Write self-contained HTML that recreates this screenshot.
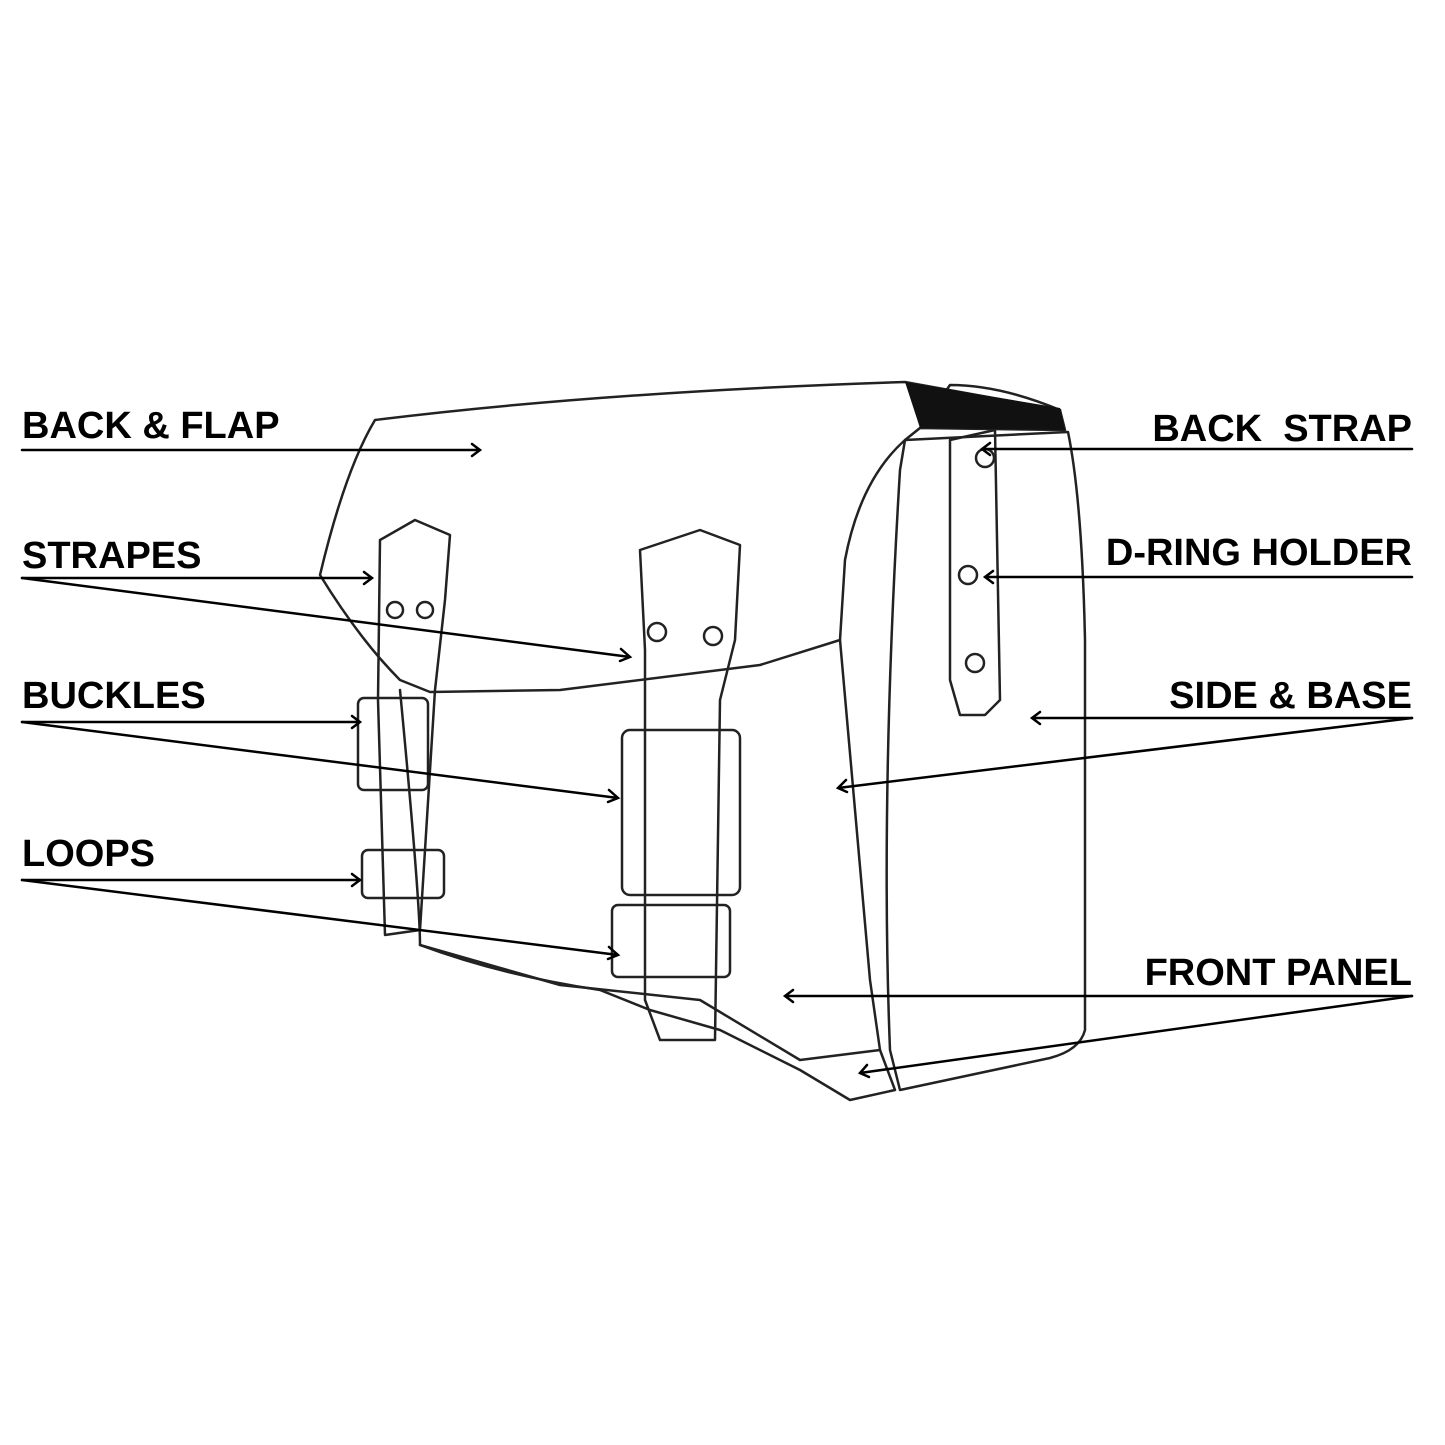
<!DOCTYPE html>
<html><head><meta charset="utf-8"><style>
html,body{margin:0;padding:0;background:#fff;}
svg{display:block;}
text{font-family:"Liberation Sans",sans-serif;font-weight:bold;font-size:38px;fill:#000;letter-spacing:0px;}
</style></head><body>
<svg width="1445" height="1445" viewBox="0 0 1445 1445" xmlns="http://www.w3.org/2000/svg">
<g fill="none" stroke="#222" stroke-width="2.5" stroke-linejoin="round" stroke-linecap="round">
 <path d="M375 420 Q600 392 905 382 L1060 410 L1065 430 L920 428 L905 440 Q860 480 845 560 L840 640 L760 665 L560 690 L430 692 L400 680 Q360 640 320 575 Q345 470 375 420 Z"/>
 <path d="M905 440 L1068 432 Q1082 500 1085 640 L1085 1030 Q1080 1050 1050 1058 L900 1090 L890 1050 Q880 800 900 470 Z"/>
 <path d="M1060 410 Q1000 385 950 385 L920 428"/>
 <path d="M400 690 Q420 900 420 945 Q500 975 600 990 L650 1010 L720 1030 L800 1070 L850 1100 L895 1090 L880 1050 L870 980 L840 640"/>
 <path d="M420 945 L560 985 L700 1000 L800 1060 L880 1050"/>
 <path d="M380 540 L415 520 L450 535 L445 600 L435 690 L420 930 L385 935 L378 700 Z"/>
 <rect x="358" y="698" width="70" height="92" rx="6"/>
 <rect x="362" y="850" width="82" height="48" rx="6"/>
 <path d="M640 550 L700 530 L740 545 L735 640 L720 700 L715 1040 L660 1040 L645 1000 L645 650 Z"/>
 <rect x="622" y="730" width="118" height="165" rx="8"/>
 <rect x="612" y="905" width="118" height="72" rx="6"/>
 <path d="M950 440 L995 430 L1000 700 L985 715 L960 715 L950 680 Z"/>
 <circle cx="985" cy="458" r="9"/>
 <circle cx="968" cy="575" r="9"/>
 <circle cx="975" cy="663" r="9"/>
 <circle cx="395" cy="610" r="8"/><circle cx="425" cy="610" r="8"/>
 <circle cx="657" cy="632" r="9"/><circle cx="713" cy="636" r="9"/>
</g>
<path d="M905 382 L1060 408 L1065 430 L920 428 Z" fill="#111"/>
<text x="22" y="438">BACK &amp; FLAP</text>
<text x="22" y="568">STRAPES</text>
<text x="22" y="708">BUCKLES</text>
<text x="22" y="866">LOOPS</text>
<text x="1412" y="441" text-anchor="end">BACK&#160; STRAP</text>
<text x="1412" y="565" text-anchor="end">D-RING HOLDER</text>
<text x="1412" y="708" text-anchor="end">SIDE &amp; BASE</text>
<text x="1412" y="985" text-anchor="end">FRONT PANEL</text>
<g stroke="#000" stroke-width="2.5" fill="none" stroke-linecap="round">
 <path d="M22 450 H480 M472 444 L480 450 L472 456"/>
 <path d="M22 578 H372 M364 572 L372 578 L364 584"/>
 <path d="M22 578 L630 657 M621 649 L630 657 L620 661"/>
 <path d="M22 722 H360 M352 716 L360 722 L352 728"/>
 <path d="M22 722 L618 798 M609 790 L618 798 L608 802"/>
 <path d="M22 880 H360 M352 874 L360 880 L352 886"/>
 <path d="M22 880 L618 955 M609 947 L618 955 L608 959"/>
 <path d="M1412 449 H982 M990 443 L982 449 L990 455"/>
 <path d="M1412 577 H985 M993 571 L985 577 L993 583"/>
 <path d="M1412 718 H1032 M1040 712 L1032 718 L1040 724"/>
 <path d="M1412 718 L838 788 M846 780 L838 788 L847 792"/>
 <path d="M1412 996 H785 M793 990 L785 996 L793 1002"/>
 <path d="M1412 996 L860 1073 M867 1065 L860 1073 L869 1077"/>
</g>
</svg>
</body></html>
